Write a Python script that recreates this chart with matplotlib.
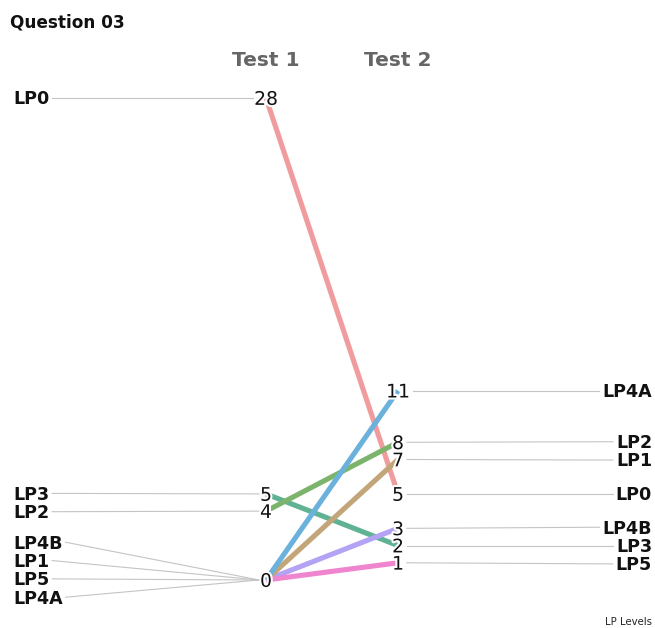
import matplotlib
matplotlib.use("Agg")
import matplotlib.pyplot as plt
import matplotlib.transforms as mtransforms
import matplotlib.patheffects as pe

plt.rcParams['font.family'] = ['DejaVu Sans']

# ---- data ----
title = "Question 03"
caption = "LP Levels"
tests = ["Test 1", "Test 2"]
levels = ["LP0", "LP3", "LP2", "LP4B", "LP1", "LP5", "LP4A"]
test1 = [28, 5, 4, 0, 0, 0, 0]
test2 = [5, 2, 8, 3, 7, 1, 11]
colors = {
    "LP0": "#F09C9E", "LP1": "#C3A57A", "LP2": "#7DB46C", "LP3": "#5FB394",
    "LP4A": "#6AB1DC", "LP4B": "#B4A2F4", "LP5": "#F085CF",
}

W, H = 655, 628
fig = plt.figure(figsize=(W / 100, H / 100), dpi=100)
ax = fig.add_axes([0, 0, 1, 1])
ax.set_axis_off()

# map x=1 -> px 266, x=2 -> px 398 ; y=0 -> px 580 (from top), y=28 -> px 98
xs_px = 132.0
x0 = 1 - 266 / xs_px
ax.set_xlim(x0, x0 + W / xs_px)
ys_px = (580 - 98) / 28.0
y0 = -(H - 580) / ys_px
ax.set_ylim(y0, y0 + H / ys_px)


def spread(vals, gap, lower):
    """cluster-merge label layout; returns label positions"""
    order = sorted(range(len(vals)), key=lambda i: -vals[i])
    clusters = [[i] for i in order]  # top to bottom
    centers = [float(vals[i]) for i in order]
    changed = True
    while changed:
        changed = False
        for k in range(len(clusters) - 1):
            a, b = clusters[k], clusters[k + 1]
            bot_a = centers[k] - (len(a) - 1) * gap / 2
            top_b = centers[k + 1] + (len(b) - 1) * gap / 2
            if bot_a - top_b < gap - 1e-9:
                merged = a + b
                clusters[k:k + 2] = [merged]
                centers[k:k + 2] = [sum(vals[i] for i in merged) / len(merged)]
                changed = True
                break
    pos = {}
    prev_top = -1e9
    for c, m in reversed(list(zip(clusters, centers))):
        bot = max(m - (len(c) - 1) * gap / 2, lower, prev_top + gap)
        for j, i in enumerate(reversed(c)):
            pos[i] = bot + j * gap
        prev_top = bot + (len(c) - 1) * gap
    return [pos[i] for i in range(len(vals))]


# slope lines
for lv, a, b in zip(levels, test1, test2):
    ax.plot([1, 2], [a, b], color=colors[lv], lw=3.7, alpha=1.0,
            solid_capstyle='butt', zorder=2)

NUM_FS = 13.5
LBL_FS = 12.6
halo = [pe.withStroke(linewidth=3, foreground='white')]

num_txt1, num_txt2 = {}, {}
for lv, a, b in zip(levels, test1, test2):
    if a not in num_txt1:
        num_txt1[a] = ax.annotate(str(a), (1, a), xytext=(0, -0.3645 * NUM_FS),
                                  textcoords='offset points', ha='center', va='baseline',
                                  fontsize=NUM_FS, color='#111111', zorder=5,
                                  path_effects=halo)
    if b not in num_txt2:
        num_txt2[b] = ax.annotate(str(b), (2, b), xytext=(0, -0.3645 * NUM_FS),
                                  textcoords='offset points', ha='center', va='baseline',
                                  fontsize=NUM_FS, color='#111111', zorder=5,
                                  path_effects=halo)

gap = 1.065
lpos = spread(test1, gap, -1.0)
rpos = spread(test2, gap, -1.0)

trans_l = mtransforms.blended_transform_factory(ax.transAxes, ax.transData)
lbl_left, lbl_right = [], []
for lv, p in zip(levels, lpos):
    lbl_left.append(ax.annotate(lv, (13 / W, p), xycoords=trans_l,
                                xytext=(0, -0.3645 * LBL_FS), textcoords='offset points',
                                ha='left', va='baseline', fontsize=LBL_FS,
                                fontweight='bold', color='#111111'))
for lv, p in zip(levels, rpos):
    lbl_right.append(ax.annotate(lv, (652 / W, p), xycoords=trans_l,
                                 xytext=(0, -0.3645 * LBL_FS), textcoords='offset points',
                                 ha='right', va='baseline', fontsize=LBL_FS,
                                 fontweight='bold', color='#111111'))

# headers, title, caption
ax.text(1, y0 + (H - 66) / ys_px, tests[0], ha='center', va='baseline',
        fontsize=14.5, fontweight='bold', color='#666666')
ax.text(2, y0 + (H - 66) / ys_px, tests[1], ha='center', va='baseline',
        fontsize=14.5, fontweight='bold', color='#666666')
ax.text(10 / W, 1 - 27 / H, title, transform=ax.transAxes, ha='left', va='baseline',
        fontsize=12.2, fontweight='bold', color='#111111')
ax.text(652 / W, 1 - 625 / H, caption, transform=ax.transAxes, ha='right', va='baseline',
        fontsize=7.3, color='#222222')

# leader lines
fig.canvas.draw()
r = fig.canvas.get_renderer()
inv = ax.transData.inverted()
for i, lv in enumerate(levels):
    bb = lbl_left[i].get_window_extent(r)
    nb = num_txt1[test1[i]].get_window_extent(r)
    xa = inv.transform((bb.x1 + 3, 0))[0]
    xb = inv.transform((nb.x0 - 1, 0))[0]
    ax.plot([xa, xb], [lpos[i], test1[i]], color='#c4c4c4', lw=0.8, zorder=1)
    bb = lbl_right[i].get_window_extent(r)
    nb = num_txt2[test2[i]].get_window_extent(r)
    xa = inv.transform((nb.x1 + 3, 0))[0]
    xb = inv.transform((bb.x0 - 3, 0))[0]
    ax.plot([xa, xb], [test2[i], rpos[i]], color='#c4c4c4', lw=0.8, zorder=1)

fig.savefig("out.png", dpi=100, facecolor='white')
